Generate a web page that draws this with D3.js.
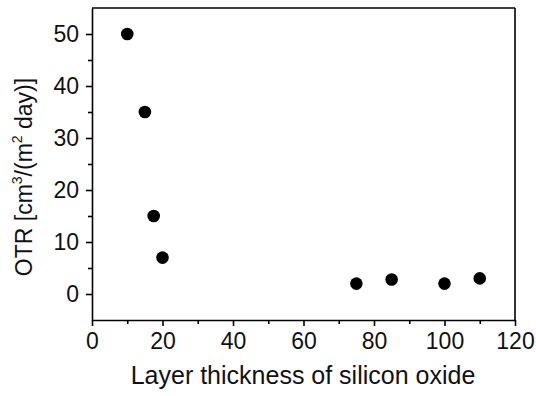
<!DOCTYPE html>
<html>
<head>
<meta charset="utf-8">
<script src="https://cdn.jsdelivr.net/npm/d3@7"></script>
<style>
  body { margin: 0; background: #fff; }
  svg text { font-family: "Liberation Sans", Arial, sans-serif; fill: #111; }
  .axis path, .axis line { stroke: #000; stroke-width: 1.6; }
</style>
</head>
<body>
<div id="chart"></div>
<script>
// Data
var thickness = [10, 15, 17.5, 20, 75, 85, 100, 110];
var otr = [50, 35, 15, 7, 2, 2.8, 2, 3];
var xTicks = [0, 20, 40, 60, 80, 100, 120];
var yTicks = [0, 10, 20, 30, 40, 50];

var width = 536, height = 396;
var margins = { top: 8, right: 21, bottom: 76, left: 92 };
var chartWidth = width - margins.left - margins.right;
var chartHeight = height - margins.top - margins.bottom;

var svg = d3.select("#chart").append("svg")
  .attr("width", width)
  .attr("height", height);

var chartElement = svg.append("g")
  .attr("transform", "translate(" + margins.left + "," + margins.top + ")");

var xScale = d3.scaleLinear().domain([0, 120]).range([0, chartWidth]);
var yScale = d3.scaleLinear().domain([-5, 55]).range([chartHeight, 0]);

// minor ticks first
chartElement.append("g")
  .attr("class", "axis")
  .attr("transform", "translate(0," + chartHeight + ")")
  .call(d3.axisBottom(xScale).tickValues(d3.range(10, 120, 20)).tickSize(4).tickFormat(""))
  .select(".domain").remove();

chartElement.append("g")
  .attr("class", "axis")
  .call(d3.axisLeft(yScale).tickValues([5, 15, 25, 35, 45]).tickSize(4).tickFormat(""))
  .select(".domain").remove();

// major axes
chartElement.append("g")
  .attr("class", "axis x")
  .attr("transform", "translate(0," + chartHeight + ")")
  .call(d3.axisBottom(xScale).tickValues(xTicks).tickSize(6).tickSizeOuter(0).tickPadding(7));

chartElement.append("g")
  .attr("class", "axis y")
  .call(d3.axisLeft(yScale).tickValues(yTicks).tickSize(6).tickSizeOuter(0).tickPadding(7));

svg.selectAll(".axis text").style("font-size", "23px");

// frame top and right
chartElement.append("line")
  .attr("x1", 0).attr("x2", chartWidth).attr("y1", 0).attr("y2", 0)
  .attr("stroke", "#000").attr("stroke-width", 1.6);
chartElement.append("line")
  .attr("x1", chartWidth).attr("x2", chartWidth).attr("y1", 0).attr("y2", chartHeight)
  .attr("stroke", "#000").attr("stroke-width", 1.6);

// points
chartElement.append("g")
  .selectAll("circle")
  .data(thickness)
  .enter()
  .append("circle")
  .attr("cx", function(d) { return xScale(d); })
  .attr("cy", function(d, i) { return yScale(otr[i]); })
  .attr("r", 6.3)
  .attr("fill", "#000");

// axis titles
svg.append("text")
  .attr("x", 303)
  .attr("y", 384)
  .attr("text-anchor", "middle")
  .style("font-size", "25px")
  .text("Layer thickness of silicon oxide");

var yTitle = svg.append("text")
  .attr("transform", "translate(32," + 177 + ") rotate(-90)")
  .attr("text-anchor", "middle")
  .style("font-size", "23px");
yTitle.append("tspan").text("OTR [cm");
yTitle.append("tspan").attr("dy", -10).style("font-size", "14px").text("3");
yTitle.append("tspan").attr("dy", 10).text("/(m");
yTitle.append("tspan").attr("dy", -10).style("font-size", "14px").text("2");
yTitle.append("tspan").attr("dy", 10).text(" day)]");
</script>
</body>
</html>
